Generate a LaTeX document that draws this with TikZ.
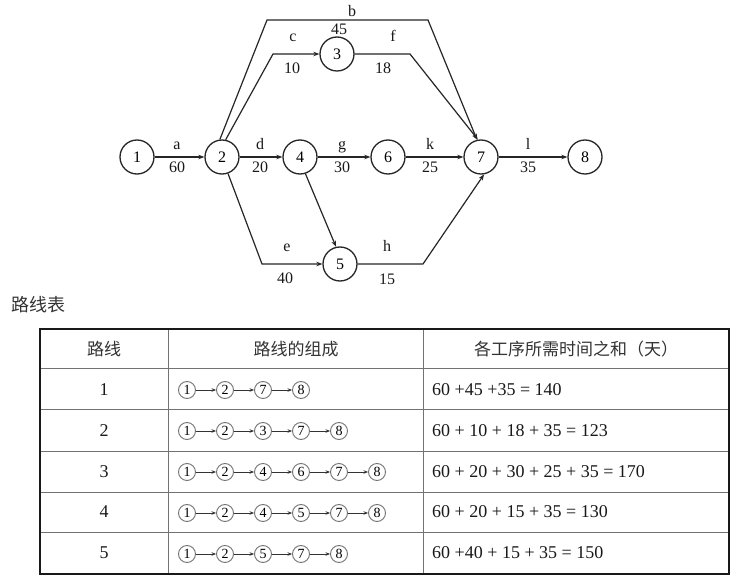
\documentclass[tikz,border=0pt]{standalone}
\usepackage{fontspec}
\setmainfont{Liberation Serif}
\newfontfamily\cjk{Noto Sans CJK SC}
\usetikzlibrary{arrows.meta}
\begin{document}
\begin{tikzpicture}[x=1pt,y=-1pt,
  ev/.style={circle, draw=black!85, line width=1.3pt, minimum size=34pt, inner sep=0pt, font=\fontsize{16}{16}\selectfont},
  arr/.style={-{Stealth[length=6pt,width=4.5pt]}, line width=1.2pt, draw=black!85},
  lab/.style={font=\fontsize{16}{16}\selectfont, inner sep=0pt, anchor=base, text=black!90},
  cn/.style={circle, draw=black!55, line width=0.9pt, minimum size=17pt, inner sep=0pt, font=\fontsize{14}{14}\selectfont},
  carr/.style={-{Stealth[length=4.5pt,width=3.5pt]}, line width=0.9pt, draw=black!80},
  hd/.style={font=\cjk\fontsize{17}{17}\selectfont, text=black!80, inner sep=0pt},
  cell/.style={font=\fontsize{18}{18}\selectfont, inner sep=0pt, text=black!90},
  grid/.style={draw=black!55, line width=1pt}]
\useasboundingbox (0,0) rectangle (748,580);
\fill[white] (0,0) rectangle (748,580);

% events
\node[ev] (n1) at (137,157) {1};
\node[ev] (n2) at (222,157) {2};
\node[ev] (n4) at (300,157) {4};
\node[ev] (n6) at (388,157) {6};
\node[ev] (n7) at (481,157) {7};
\node[ev] (n8) at (585,157) {8};
\node[ev] (n3) at (337,54) {3};
\node[ev] (n5) at (340,264) {5};

% bend points
\coordinate (b1) at (267,20);
\coordinate (b2) at (428,20);
\coordinate (c1) at (273,54);
\coordinate (f1) at (410,54);
\coordinate (e1) at (262,264);
\coordinate (h1) at (423,264);

% activities
\draw[arr] (n1) -- (n2);
\draw[arr] (n2) -- (n4);
\draw[arr] (n4) -- (n6);
\draw[arr] (n6) -- (n7);
\draw[arr] (n7) -- (n8);
\draw[arr] (n2.97) -- (b1) -- (b2) -- (n7.103);
\draw[arr] (n2.78) -- (c1) -- (n3.west);
\draw[arr] (n3.east) -- (f1) -- (n7.100);
\draw[arr] (n2.-70) -- (e1) -- (n5.west);
\draw[arr] (n5.east) -- (h1) -- (n7.-80);
\draw[arr] (n4.-72) -- (n5.103);

% labels
\node[lab] (la) at (177,150) {a};   \node[lab] (ta) at (177,173) {60};
\node[lab] (ld) at (260,150) {d};   \node[lab] (td) at (260,173) {20};
\node[lab] (lg) at (342,150) {g};   \node[lab] (tg) at (342,173) {30};
\node[lab] (lk) at (430,150) {k};   \node[lab] (tk) at (430,173) {25};
\node[lab] (ll) at (528,150) {l};   \node[lab] (tl) at (528,173) {35};
\node[lab] (lb) at (352,17) {b};    \node[lab] (tb) at (339,35) {45};
\node[lab] (lc) at (293,42) {c};    \node[lab] (tc) at (292,74) {10};
\node[lab] (lf) at (393,42) {f};    \node[lab] (tf) at (383,74) {18};
\node[lab] (le) at (287,252) {e};   \node[lab] (te) at (285,284) {40};
\node[lab] (lh) at (387,252) {h};   \node[lab] (th) at (387,285) {15};

% table title
\node[font=\cjk\fontsize{18}{18}\selectfont, text=black!80, anchor=west, inner sep=0pt] (ttl) at (11,305) {路线表};

% table grid
\foreach \yy in {369,410,451,492,532} \draw[grid] (40,\yy) -- (729,\yy);
\draw[grid] (168,329) -- (168,574);
\draw[grid] (423,329) -- (423,574);
\draw[line width=2pt, draw=black!90] (40,329) rectangle (729,574);

% header
\node[hd] (h1t) at (104,349) {路线};
\node[hd] (h2t) at (296,349) {路线的组成};
\node[hd] (h3t) at (576,349) {各工序所需时间之和（天）};

% rows
\foreach \r/\yy/\f in {1/389.5/{60 +45 +35 = 140},
                       2/430.5/{60 + 10 + 18 + 35 = 123},
                       3/471.5/{60 + 20 + 30 + 25 + 35 = 170},
                       4/512/{60 + 20 + 15 + 35 = 130},
                       5/553/{60 +40 + 15 + 35 = 150}} {
  \node[cell] (rn\r) at (104,\yy) {\r};
  \node[cell, anchor=west] (rf\r) at (432,\yy) {\f};
}

\foreach \r/\yy/\s in {1/390/{1,2,7,8},
                       2/431/{1,2,3,7,8},
                       3/472/{1,2,4,6,7,8},
                       4/513/{1,2,4,5,7,8},
                       5/554/{1,2,5,7,8}} {
  \foreach \v [count=\k] in \s {
    \node[cn] (c\r-\k) at ({187+38*(\k-1)},\yy) {\v};
    \ifnum\k>1
      \pgfmathtruncatemacro{\pk}{\k-1}
      \draw[carr] (c\r-\pk) -- (c\r-\k);
    \fi
  }
}
\end{tikzpicture}
\end{document}
